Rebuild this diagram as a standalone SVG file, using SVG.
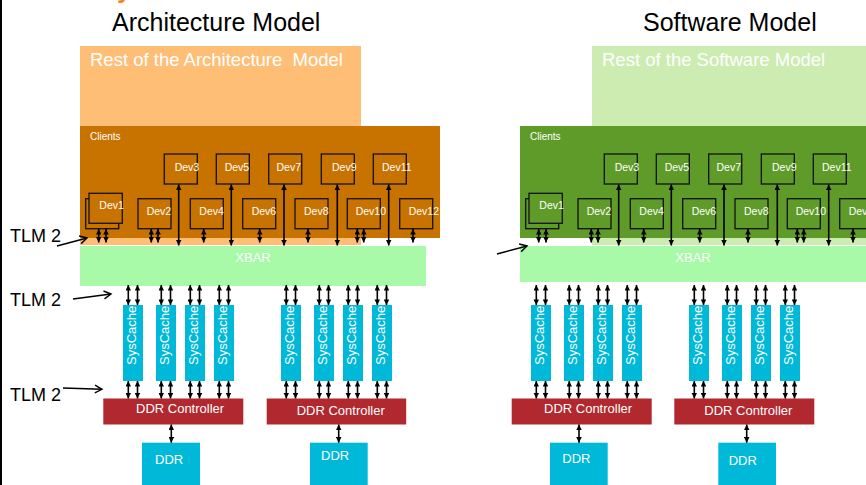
<svg xmlns="http://www.w3.org/2000/svg" width="866" height="485" viewBox="0 0 866 485">
<style>
text{font-family:"Liberation Sans",Arial,sans-serif}
.title{font-size:25px;fill:#000}
.rest{font-size:18.5px;fill:#fff;white-space:pre}
.cl{font-size:10px;fill:#fff}
.dv{font-size:10.5px;fill:#fff}
.devA{fill:#C87200;stroke:#111;stroke-width:1.3}
.devS{fill:#5F9B29;stroke:#111;stroke-width:1.3}
.sc{fill:#00B9D9}
.sct{font-size:13px;fill:#fff}
.ddrc{fill:#B1282E}
.b13{font-size:13px;fill:#fff}
.tlm{font-size:18px;fill:#000}
.xb{fill:#A8F9A8}
.bi{stroke:#000;stroke-width:1.6;fill:none;marker-start:url(#ah);marker-end:url(#ah)}
.op{stroke:#000;stroke-width:1.5;fill:none;marker-end:url(#oh)}
</style>
<defs>
<marker id="ah" viewBox="0 0 10 10" refX="10" refY="5" markerWidth="6" markerHeight="5.6" markerUnits="userSpaceOnUse" orient="auto-start-reverse"><path d="M0,0 L10,5 L0,10 z" fill="#000"/></marker>
<marker id="oh" viewBox="-2 -2 14 14" refX="9" refY="5" markerWidth="11" markerHeight="11" markerUnits="userSpaceOnUse" orient="auto"><path d="M0,0 L9,5 L0,10" fill="none" stroke="#000" stroke-width="1.8"/></marker>
</defs>
<rect width="866" height="485" fill="#fff"/>
<rect x="0" y="0" width="2" height="485" fill="#000"/>
<text x="117" y="-2.5" style="font-size:26px;font-weight:bold;fill:#F5821F">y</text>
<text class="title" x="112" y="31">Architecture Model</text>
<text class="title" x="643" y="31">Software Model</text>

<g id="rest-arch"><rect x="80" y="46" width="281" height="199" fill="#FFBE76"/><text class="rest" x="90" y="66" xml:space="preserve">Rest of the Architecture  Model</text></g>
<g id="rest-sw"><rect x="592" y="46" width="274" height="199" fill="#CCECB2"/><text class="rest" x="602" y="66">Rest of the Software Model</text></g>

<g id="clients-arch"><rect x="80" y="126" width="360" height="112" fill="#C87200"/><text class="cl" x="90" y="139.5">Clients</text></g>
<g id="clients-sw"><rect x="520" y="126" width="346" height="112" fill="#5F9B29"/><text class="cl" x="530" y="139.5">Clients</text></g>

<g id="arch-dev1"><rect class="devA" x="85.7" y="198.7" width="33" height="30"/><rect class="devA" x="89" y="193.3" width="33.3" height="30"/><text class="dv" x="99.3" y="209.3">Dev1</text></g>
<g id="arch-dev2"><rect class="devA" x="138" y="198.7" width="33" height="30"/><text class="dv" x="146.7" y="214.7">Dev2</text></g>
<g id="arch-dev3"><rect class="devA" x="164.3" y="154" width="33" height="30"/><text class="dv" x="174.7" y="170.5">Dev3</text></g>
<g id="arch-dev4"><rect class="devA" x="190.3" y="198.7" width="33" height="30"/><text class="dv" x="199.3" y="214.7">Dev4</text></g>
<g id="arch-dev5"><rect class="devA" x="216.3" y="154" width="33" height="30"/><text class="dv" x="224.7" y="170.5">Dev5</text></g>
<g id="arch-dev6"><rect class="devA" x="242.7" y="198.7" width="33" height="30"/><text class="dv" x="251.7" y="214.7">Dev6</text></g>
<g id="arch-dev7"><rect class="devA" x="268.7" y="154" width="33" height="30"/><text class="dv" x="276.5" y="170.5">Dev7</text></g>
<g id="arch-dev8"><rect class="devA" x="295" y="198.7" width="33" height="30"/><text class="dv" x="304" y="214.7">Dev8</text></g>
<g id="arch-dev9"><rect class="devA" x="321.3" y="154" width="33" height="30"/><text class="dv" x="332" y="170.5">Dev9</text></g>
<g id="arch-dev10"><rect class="devA" x="347.3" y="198.7" width="33" height="30"/><text class="dv" x="355.7" y="214.7">Dev10</text></g>
<g id="arch-dev11"><rect class="devA" x="373.3" y="154" width="33" height="30"/><text class="dv" x="382" y="170.5">Dev11</text></g>
<g id="arch-dev12"><rect class="devA" x="399.7" y="198.7" width="33" height="30"/><text class="dv" x="408.7" y="214.7">Dev12</text></g>

<g id="sw-dev1"><rect class="devS" x="525.7" y="198.7" width="33" height="30"/><rect class="devS" x="529" y="193.3" width="33.3" height="30"/><text class="dv" x="539.3" y="209.3">Dev1</text></g>
<g id="sw-dev2"><rect class="devS" x="578" y="198.7" width="33" height="30"/><text class="dv" x="586.7" y="214.7">Dev2</text></g>
<g id="sw-dev3"><rect class="devS" x="604.3" y="154" width="33" height="30"/><text class="dv" x="614.7" y="170.5">Dev3</text></g>
<g id="sw-dev4"><rect class="devS" x="630.3" y="198.7" width="33" height="30"/><text class="dv" x="639.3" y="214.7">Dev4</text></g>
<g id="sw-dev5"><rect class="devS" x="656.3" y="154" width="33" height="30"/><text class="dv" x="664.7" y="170.5">Dev5</text></g>
<g id="sw-dev6"><rect class="devS" x="682.7" y="198.7" width="33" height="30"/><text class="dv" x="691.7" y="214.7">Dev6</text></g>
<g id="sw-dev7"><rect class="devS" x="708.7" y="154" width="33" height="30"/><text class="dv" x="716.5" y="170.5">Dev7</text></g>
<g id="sw-dev8"><rect class="devS" x="735" y="198.7" width="33" height="30"/><text class="dv" x="744" y="214.7">Dev8</text></g>
<g id="sw-dev9"><rect class="devS" x="761.3" y="154" width="33" height="30"/><text class="dv" x="772" y="170.5">Dev9</text></g>
<g id="sw-dev10"><rect class="devS" x="787.3" y="198.7" width="33" height="30"/><text class="dv" x="795.7" y="214.7">Dev10</text></g>
<g id="sw-dev11"><rect class="devS" x="813.3" y="154" width="33" height="30"/><text class="dv" x="822" y="170.5">Dev11</text></g>
<g id="sw-dev12"><rect class="devS" x="839.7" y="198.7" width="33" height="30"/><text class="dv" x="848.7" y="214.7">Dev12</text></g>

<g id="xbar-arch"><rect class="xb" x="80" y="246" width="346" height="40"/><text class="b13" x="253" y="262" text-anchor="middle">XBAR</text></g>
<g id="xbar-sw"><rect class="xb" x="520" y="246" width="346" height="36"/><text class="b13" x="693" y="262" text-anchor="middle">XBAR</text></g>

<g id="arch-syscache1"><rect class="sc" x="123" y="305" width="20" height="76"/><text class="sct" transform="translate(135.5,365) rotate(-90)">SysCache</text></g>
<g id="arch-syscache2"><rect class="sc" x="156" y="305" width="20" height="76"/><text class="sct" transform="translate(168.5,365) rotate(-90)">SysCache</text></g>
<g id="arch-syscache3"><rect class="sc" x="185" y="305" width="20" height="76"/><text class="sct" transform="translate(197.5,365) rotate(-90)">SysCache</text></g>
<g id="arch-syscache4"><rect class="sc" x="214" y="305" width="20" height="76"/><text class="sct" transform="translate(226.5,365) rotate(-90)">SysCache</text></g>
<g id="arch-syscache5"><rect class="sc" x="281" y="305" width="20" height="76"/><text class="sct" transform="translate(293.5,365) rotate(-90)">SysCache</text></g>
<g id="arch-syscache6"><rect class="sc" x="314" y="305" width="20" height="76"/><text class="sct" transform="translate(326.5,365) rotate(-90)">SysCache</text></g>
<g id="arch-syscache7"><rect class="sc" x="343" y="305" width="20" height="76"/><text class="sct" transform="translate(355.5,365) rotate(-90)">SysCache</text></g>
<g id="arch-syscache8"><rect class="sc" x="372" y="305" width="20" height="76"/><text class="sct" transform="translate(384.5,365) rotate(-90)">SysCache</text></g>

<g id="sw-syscache1"><rect class="sc" x="531" y="305" width="20" height="76"/><text class="sct" transform="translate(543.5,365) rotate(-90)">SysCache</text></g>
<g id="sw-syscache2"><rect class="sc" x="564" y="305" width="20" height="76"/><text class="sct" transform="translate(576.5,365) rotate(-90)">SysCache</text></g>
<g id="sw-syscache3"><rect class="sc" x="593" y="305" width="20" height="76"/><text class="sct" transform="translate(605.5,365) rotate(-90)">SysCache</text></g>
<g id="sw-syscache4"><rect class="sc" x="622" y="305" width="20" height="76"/><text class="sct" transform="translate(634.5,365) rotate(-90)">SysCache</text></g>
<g id="sw-syscache5"><rect class="sc" x="689" y="305" width="20" height="76"/><text class="sct" transform="translate(701.5,365) rotate(-90)">SysCache</text></g>
<g id="sw-syscache6"><rect class="sc" x="722" y="305" width="20" height="76"/><text class="sct" transform="translate(734.5,365) rotate(-90)">SysCache</text></g>
<g id="sw-syscache7"><rect class="sc" x="751" y="305" width="20" height="76"/><text class="sct" transform="translate(763.5,365) rotate(-90)">SysCache</text></g>
<g id="sw-syscache8"><rect class="sc" x="780" y="305" width="20" height="76"/><text class="sct" transform="translate(792.5,365) rotate(-90)">SysCache</text></g>

<g id="arch-ddrc1"><rect class="ddrc" x="103.3" y="398.5" width="140" height="26"/><text class="b13" x="136" y="413">DDR Controller</text></g>
<g id="arch-ddrc2"><rect class="ddrc" x="266.7" y="398.5" width="139.5" height="26"/><text class="b13" x="296.7" y="415">DDR Controller</text></g>
<g id="sw-ddrc1"><rect class="ddrc" x="511.7" y="398.5" width="140" height="26"/><text class="b13" x="544" y="412.5">DDR Controller</text></g>
<g id="sw-ddrc2"><rect class="ddrc" x="674.3" y="398.5" width="140" height="26"/><text class="b13" x="704.3" y="415">DDR Controller</text></g>

<g id="arch-ddr1"><rect class="sc" x="142" y="442.7" width="58" height="43"/><text class="b13" x="155" y="463.7">DDR</text></g>
<g id="arch-ddr2"><rect class="sc" x="310" y="442.7" width="57.7" height="43"/><text class="b13" x="321" y="460">DDR</text></g>
<g id="sw-ddr1"><rect class="sc" x="550" y="442.7" width="57.7" height="43"/><text class="b13" x="562.3" y="463.3">DDR</text></g>
<g id="sw-ddr2"><rect class="sc" x="718.3" y="442.7" width="57.7" height="43"/><text class="b13" x="728.7" y="465">DDR</text></g>

<g id="labels">
<text class="tlm" x="10" y="242">TLM 2</text>
<text class="tlm" x="10" y="305.5">TLM 2</text>
<text class="tlm" x="10" y="401">TLM 2</text>
</g>

<g id="connectors">
<line class="op" x1="57" y1="246" x2="87" y2="238"/>
<line class="op" x1="73" y1="299" x2="111" y2="294"/>
<line class="op" x1="63" y1="388" x2="102" y2="389.3"/>
<line class="op" x1="497" y1="254" x2="527" y2="246"/>

<line class="bi" x1="178.7" y1="184.5" x2="178.7" y2="245.5"/>
<line class="bi" x1="231.3" y1="184.5" x2="231.3" y2="245.5"/>
<line class="bi" x1="284" y1="184.5" x2="284" y2="245.5"/>
<line class="bi" x1="337.3" y1="184.5" x2="337.3" y2="245.5"/>
<line class="bi" x1="388.7" y1="184.5" x2="388.7" y2="245.5"/>
<line class="bi" x1="98.7" y1="229" x2="98.7" y2="242.5"/>
<line class="bi" x1="106" y1="229" x2="106" y2="242.5"/>
<line class="bi" x1="151.3" y1="229" x2="151.3" y2="242.5"/>
<line class="bi" x1="158" y1="229" x2="158" y2="242.5"/>
<line class="bi" x1="203.7" y1="229" x2="203.7" y2="242.5"/>
<line class="bi" x1="259.7" y1="229" x2="259.7" y2="242.5"/>
<line class="bi" x1="308" y1="229" x2="308" y2="242.5"/>
<line class="bi" x1="357.3" y1="229" x2="357.3" y2="242.5"/>
<line class="bi" x1="363.7" y1="229" x2="363.7" y2="242.5"/>
<line class="bi" x1="413" y1="229" x2="413" y2="242.5"/>

<line class="bi" x1="618.7" y1="184.5" x2="618.7" y2="245.5"/>
<line class="bi" x1="671.3" y1="184.5" x2="671.3" y2="245.5"/>
<line class="bi" x1="724" y1="184.5" x2="724" y2="245.5"/>
<line class="bi" x1="777.3" y1="184.5" x2="777.3" y2="245.5"/>
<line class="bi" x1="828.7" y1="184.5" x2="828.7" y2="245.5"/>
<line class="bi" x1="538.7" y1="229" x2="538.7" y2="242.5"/>
<line class="bi" x1="546" y1="229" x2="546" y2="242.5"/>
<line class="bi" x1="591.3" y1="229" x2="591.3" y2="242.5"/>
<line class="bi" x1="598" y1="229" x2="598" y2="242.5"/>
<line class="bi" x1="643.7" y1="229" x2="643.7" y2="242.5"/>
<line class="bi" x1="699.7" y1="229" x2="699.7" y2="242.5"/>
<line class="bi" x1="748" y1="229" x2="748" y2="242.5"/>
<line class="bi" x1="797.3" y1="229" x2="797.3" y2="242.5"/>
<line class="bi" x1="803.7" y1="229" x2="803.7" y2="242.5"/>
<line class="bi" x1="853" y1="229" x2="853" y2="242.5"/>

<line class="bi" x1="128.3" y1="285" x2="128.3" y2="305"/>
<line class="bi" x1="137.5" y1="285" x2="137.5" y2="305"/>
<line class="bi" x1="161.3" y1="285" x2="161.3" y2="305"/>
<line class="bi" x1="170.5" y1="285" x2="170.5" y2="305"/>
<line class="bi" x1="190.3" y1="285" x2="190.3" y2="305"/>
<line class="bi" x1="199.5" y1="285" x2="199.5" y2="305"/>
<line class="bi" x1="219.3" y1="285" x2="219.3" y2="305"/>
<line class="bi" x1="228.5" y1="285" x2="228.5" y2="305"/>
<line class="bi" x1="286.3" y1="285" x2="286.3" y2="305"/>
<line class="bi" x1="295.5" y1="285" x2="295.5" y2="305"/>
<line class="bi" x1="319.3" y1="285" x2="319.3" y2="305"/>
<line class="bi" x1="328.5" y1="285" x2="328.5" y2="305"/>
<line class="bi" x1="348.3" y1="285" x2="348.3" y2="305"/>
<line class="bi" x1="357.5" y1="285" x2="357.5" y2="305"/>
<line class="bi" x1="377.3" y1="285" x2="377.3" y2="305"/>
<line class="bi" x1="386.5" y1="285" x2="386.5" y2="305"/>

<line class="bi" x1="128.3" y1="381" x2="128.3" y2="398.5"/>
<line class="bi" x1="137.5" y1="381" x2="137.5" y2="398.5"/>
<line class="bi" x1="161.3" y1="381" x2="161.3" y2="398.5"/>
<line class="bi" x1="170.5" y1="381" x2="170.5" y2="398.5"/>
<line class="bi" x1="190.3" y1="381" x2="190.3" y2="398.5"/>
<line class="bi" x1="199.5" y1="381" x2="199.5" y2="398.5"/>
<line class="bi" x1="219.3" y1="381" x2="219.3" y2="398.5"/>
<line class="bi" x1="228.5" y1="381" x2="228.5" y2="398.5"/>
<line class="bi" x1="286.3" y1="381" x2="286.3" y2="398.5"/>
<line class="bi" x1="295.5" y1="381" x2="295.5" y2="398.5"/>
<line class="bi" x1="319.3" y1="381" x2="319.3" y2="398.5"/>
<line class="bi" x1="328.5" y1="381" x2="328.5" y2="398.5"/>
<line class="bi" x1="348.3" y1="381" x2="348.3" y2="398.5"/>
<line class="bi" x1="357.5" y1="381" x2="357.5" y2="398.5"/>
<line class="bi" x1="377.3" y1="381" x2="377.3" y2="398.5"/>
<line class="bi" x1="386.5" y1="381" x2="386.5" y2="398.5"/>

<line class="bi" x1="536.3" y1="285" x2="536.3" y2="305"/>
<line class="bi" x1="545.5" y1="285" x2="545.5" y2="305"/>
<line class="bi" x1="569.3" y1="285" x2="569.3" y2="305"/>
<line class="bi" x1="578.5" y1="285" x2="578.5" y2="305"/>
<line class="bi" x1="598.3" y1="285" x2="598.3" y2="305"/>
<line class="bi" x1="607.5" y1="285" x2="607.5" y2="305"/>
<line class="bi" x1="627.3" y1="285" x2="627.3" y2="305"/>
<line class="bi" x1="636.5" y1="285" x2="636.5" y2="305"/>
<line class="bi" x1="694.3" y1="285" x2="694.3" y2="305"/>
<line class="bi" x1="703.5" y1="285" x2="703.5" y2="305"/>
<line class="bi" x1="727.3" y1="285" x2="727.3" y2="305"/>
<line class="bi" x1="736.5" y1="285" x2="736.5" y2="305"/>
<line class="bi" x1="756.3" y1="285" x2="756.3" y2="305"/>
<line class="bi" x1="765.5" y1="285" x2="765.5" y2="305"/>
<line class="bi" x1="785.3" y1="285" x2="785.3" y2="305"/>
<line class="bi" x1="794.5" y1="285" x2="794.5" y2="305"/>

<line class="bi" x1="536.3" y1="381" x2="536.3" y2="398.5"/>
<line class="bi" x1="545.5" y1="381" x2="545.5" y2="398.5"/>
<line class="bi" x1="569.3" y1="381" x2="569.3" y2="398.5"/>
<line class="bi" x1="578.5" y1="381" x2="578.5" y2="398.5"/>
<line class="bi" x1="598.3" y1="381" x2="598.3" y2="398.5"/>
<line class="bi" x1="607.5" y1="381" x2="607.5" y2="398.5"/>
<line class="bi" x1="627.3" y1="381" x2="627.3" y2="398.5"/>
<line class="bi" x1="636.5" y1="381" x2="636.5" y2="398.5"/>
<line class="bi" x1="694.3" y1="381" x2="694.3" y2="398.5"/>
<line class="bi" x1="703.5" y1="381" x2="703.5" y2="398.5"/>
<line class="bi" x1="727.3" y1="381" x2="727.3" y2="398.5"/>
<line class="bi" x1="736.5" y1="381" x2="736.5" y2="398.5"/>
<line class="bi" x1="756.3" y1="381" x2="756.3" y2="398.5"/>
<line class="bi" x1="765.5" y1="381" x2="765.5" y2="398.5"/>
<line class="bi" x1="785.3" y1="381" x2="785.3" y2="398.5"/>
<line class="bi" x1="794.5" y1="381" x2="794.5" y2="398.5"/>

<line class="bi" x1="171.3" y1="424.5" x2="171.3" y2="442.7"/>
<line class="bi" x1="338.7" y1="424.5" x2="338.7" y2="442.7"/>
<line class="bi" x1="579" y1="424.5" x2="579" y2="442.7"/>
<line class="bi" x1="746.7" y1="424.5" x2="746.7" y2="442.7"/>
</g>
</svg>
